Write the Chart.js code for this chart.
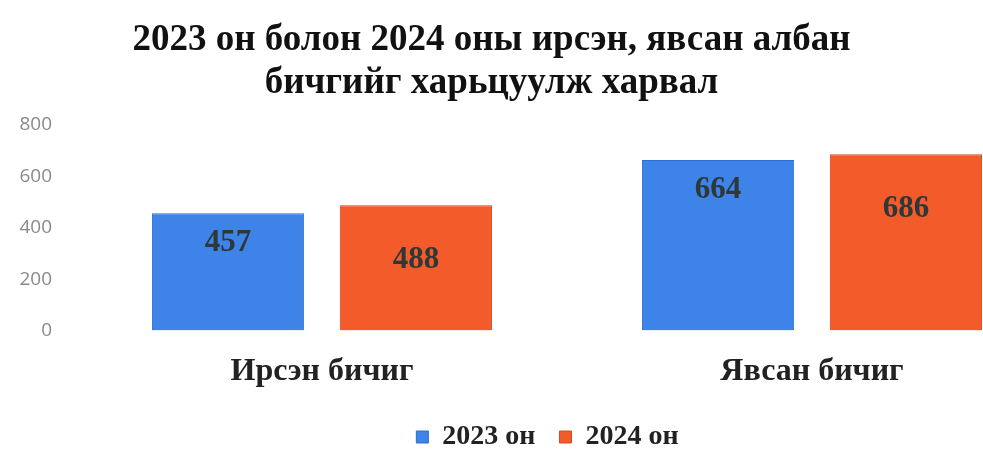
<!DOCTYPE html>
<html>
<head>
<meta charset="utf-8">
<script src="https://cdn.jsdelivr.net/npm/chart.js@4.4.0/dist/chart.umd.min.js"></script>
<style>
    body { margin: 0; background: #fff; overflow: hidden; }
    #wrap { position: relative; width: 983px; height: 455px; overflow: hidden; }
    #title {
        position: absolute; left: 0; top: 16px; width: 983px; text-align: center;
        font: bold 37px "Liberation Serif", serif; line-height: 43px; color: #111; z-index: 2;
    }
    #box { position: absolute; left: 0; top: 0; width: 1060px; height: 455px; }
</style>
</head>
<body>
<div id="wrap">
    <div id="title">2023 он болон 2024 оны ирсэн, явсан албан<br>бичгийг харьцуулж харвал</div>
    <div id="box"><canvas id="chart"></canvas></div>
</div>
<script>
// chart data
var categories = ['Ирсэн бичиг', 'Явсан бичиг'];
var seriesNames = ['2023 он', '2024 он'];
var values2023 = [457, 664];
var values2024 = [488, 686];
var yTicks = [0, 200, 400, 600, 800];

// value labels inside the bars
var barLabels = {
    id: 'barLabels',
    afterDatasetsDraw: function (chart, args, opts) {
        var ctx = chart.ctx;
        ctx.save();
        ctx.font = 'bold 31px "Liberation Serif", serif';
        ctx.fillStyle = '#2e3838';
        ctx.textAlign = 'center';
        ctx.textBaseline = 'middle';
        chart.data.datasets.forEach(function (ds, i) {
            chart.getDatasetMeta(i).data.forEach(function (bar, j) {
                ctx.fillText(ds.data[j], bar.x, bar.y + opts.offsets[i]);
            });
        });
        ctx.restore();
    }
};

// the legend sits a little right of the canvas centre
var legendShift = {
    id: 'legendShift',
    afterLayout: function (chart, args, opts) {
        chart.legend.left += opts.dx;
        chart.legend.right += opts.dx;
    }
};

var chartData = {
    labels: categories,
    datasets: [{
        label: seriesNames[0],
        data: values2023,
        backgroundColor: '#3e84e8',
        borderColor: '#2c6fd2',
        borderWidth: 1
    }, {
        label: seriesNames[1],
        data: values2024,
        backgroundColor: '#f35b2b',
        borderColor: '#d9491d',
        borderWidth: 1
    }]
};

new Chart(document.getElementById('chart'), {
    type: 'bar',
    data: chartData,
    plugins: [barLabels, legendShift],
    options: {
        responsive: true,
        maintainAspectRatio: false,
        animation: false,
        categoryPercentage: 0.767,
        barPercentage: 0.81,
        layout: { padding: { left: 10, right: 3, top: 125, bottom: -6 } },
        plugins: {
            title: { display: false },
            tooltip: { enabled: false },
            barLabels: { offsets: [30, 55] },
            legendShift: { dx: 14 },
            legend: {
                position: 'bottom',
                labels: {
                    boxWidth: 12, boxHeight: 12, padding: 10,
                    color: '#222',
                    font: { family: '"Liberation Serif", serif', size: 28, weight: 'bold' },
                    generateLabels: function (chart) {
                        var items = Chart.defaults.plugins.legend.labels.generateLabels(chart);
                        items[0].text += '  ';
                        return items;
                    }
                }
            }
        },
        scales: {
            x: {
                grid: { display: false, drawTicks: false },
                border: { display: false },
                ticks: {
                    padding: 22,
                    color: '#222',
                    font: { family: '"Liberation Serif", serif', size: 32, weight: 'bold' }
                }
            },
            y: {
                min: 0,
                max: 800,
                afterFit: function (axis) { axis.width = 67; },
                afterBuildTicks: function (axis) {
                    axis.ticks = yTicks.map(function (v) { return { value: v }; });
                },
                grid: { display: false, drawTicks: false },
                border: { display: false },
                ticks: {
                    padding: 25,
                    color: '#8a8a8a',
                    font: { family: '"Open Sans", sans-serif', size: 19 }
                }
            }
        }
    }
});
</script>
</body>
</html>
